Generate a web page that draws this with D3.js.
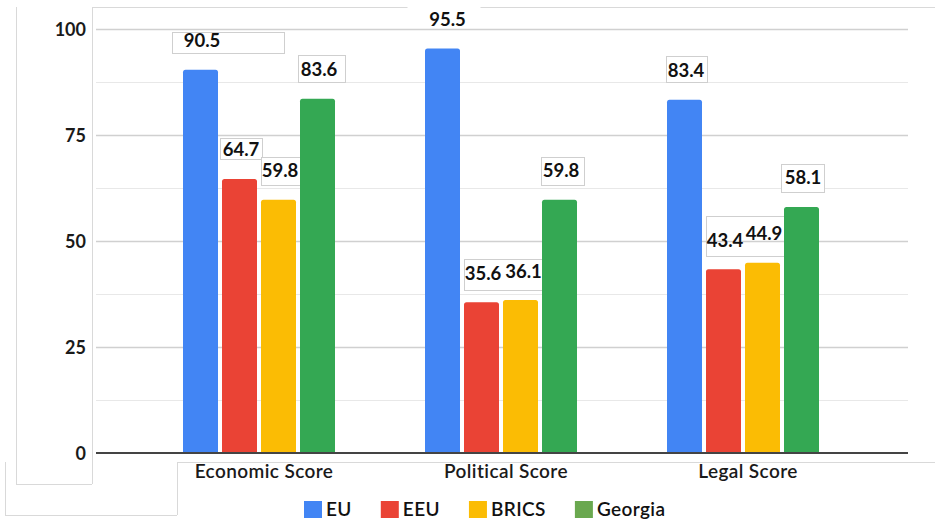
<!DOCTYPE html>
<html><head><meta charset="utf-8">
<script src="https://cdn.jsdelivr.net/npm/d3@7"></script>
<style>body{margin:0;background:#fff}svg{display:block;font-family:Lato,"Noto Sans",sans-serif}</style>
</head><body><svg width="935" height="520"></svg>
<script>
// ---- data ----
const categories = ["Economic Score", "Political Score", "Legal Score"];
const seriesNames = ["EU", "EEU", "BRICS", "Georgia"];
const EU = [90.5, 95.5, 83.4];
const EEU = [64.7, 35.6, 43.4];
const BRICS = [59.8, 36.1, 44.9];
const Georgia = [83.6, 59.8, 58.1];
const yTicks = [0, 25, 50, 75, 100];
const yMinorTicks = [12.5, 37.5, 62.5, 87.5];

// ---- styles / layout ----
const barColors = ["#4285f4", "#ea4335", "#fbbc04", "#34a853"];
const legendColors = ["#4285f4", "#ea4335", "#fbbc04", "#6aa84f"];
// label boxes: which labels share a box, padding [left, top, right, bottom], stroke
const labelBoxes = [
  {m: [[0,0]], pad: [12, 2, 63, 6], stroke: true},
  {m: [[0,1]], pad: [3, 5, 2, 3], stroke: true},
  {m: [[0,2]], pad: [1, 7, 1, 8], stroke: true},
  {m: [[0,3]], pad: [3, 8, 7, 6], stroke: true},
  {m: [[1,0]], pad: [22, 25, 14, 3], stroke: false},
  {m: [[1,1],[1,2]], pad: [1, 6, 1, 10], stroke: true},
  {m: [[1,3]], pad: [2, 7, 4, 8], stroke: true},
  {m: [[2,0]], pad: [2, 8, 2, 5], stroke: true},
  {m: [[2,1],[2,2]], pad: [1, 11, 1, 10], stroke: true},
  {m: [[2,3]], pad: [4, 7, 2, 8], stroke: true}
];
const labelShift = {"1,0": 3.5, "1,2": 1.5};

const seriesValues = [EU, EEU, BRICS, Georgia];
const svg = d3.select("svg");

const y = d3.scaleLinear().domain([0, 100]).range([453, 29.4]);
const x0 = d3.scaleBand().domain(categories).range([138, 864]);
const groupW = 152;
const x1 = d3.scaleBand().domain(seriesNames)
  .range([(x0.bandwidth() - groupW) / 2, (x0.bandwidth() + groupW) / 2])
  .paddingInner(4 / 39);

// decorative frame lines
const frame = svg.append("g").attr("stroke", "#d9d9d9").attr("stroke-width", 1).attr("fill", "none");
[[92, 7.5, 935, 7.5], [16.5, 7, 16.5, 484], [92.5, 7, 92.5, 484], [16, 484.5, 92, 484.5],
 [5.5, 462, 5.5, 515], [5, 515.5, 177, 515.5], [177.5, 462, 177.5, 515], [177, 462.5, 935, 462.5]]
  .forEach(l => frame.append("line").attr("x1", l[0]).attr("y1", l[1]).attr("x2", l[2]).attr("y2", l[3]));

// gridlines
const gx1 = 96, gx2 = 908;
svg.append("g").selectAll("line").data(yMinorTicks).join("line")
  .attr("x1", gx1).attr("x2", gx2).attr("y1", d => Math.round(y(d)) + 0.5).attr("y2", d => Math.round(y(d)) + 0.5)
  .attr("stroke", "#e8e8e8").attr("stroke-width", 1.2);

// bars
function topRounded(x, yTop, w, h, r) {
  r = Math.min(r, h);
  return `M${x},${yTop + h}V${yTop + r}Q${x},${yTop} ${x + r},${yTop}H${x + w - r}Q${x + w},${yTop} ${x + w},${yTop + r}V${yTop + h}Z`;
}
const barData = [];
categories.forEach((c, ci) => seriesNames.forEach((s, si) => barData.push({c, ci, s, si, v: seriesValues[si][ci]})));

const labelG = svg.append("g");
const boxG = labelG.append("g");
const textG = svg.append("g");
const majorG = svg.append("g");

svg.append("g").selectAll("path").data(barData).join("path")
  .attr("d", d => topRounded(x0(d.c) + x1(d.s), y(d.v), x1.bandwidth(), y(0) - y(d.v), 2.5))
  .attr("fill", d => barColors[d.si]);

const texts = {};
barData.forEach(d => {
  const cx = x0(d.c) + x1(d.s) + x1.bandwidth() / 2 + 1.5 + (labelShift[d.ci + "," + d.si] || 0);
  const t = textG.append("text").attr("x", cx).attr("y", y(d.v) - 22.5)
    .attr("text-anchor", "middle").attr("font-size", 18.5).attr("font-weight", 700).attr("fill", "#111")
    .text(d3.format(".1f")(d.v));
  const w = t.node().getComputedTextLength();
  texts[d.ci + "," + d.si] = {l: cx - w / 2, r: cx + w / 2, base: y(d.v) - 22.5};
});
labelBoxes.forEach(b => {
  const ms = b.m.map(k => texts[k[0] + "," + k[1]]);
  const l = d3.min(ms, m => m.l) - b.pad[0];
  const r = d3.max(ms, m => m.r) + b.pad[2];
  const t = d3.min(ms, m => m.base) - 13 - b.pad[1];
  const bt = d3.max(ms, m => m.base) + b.pad[3];
  boxG.append("rect").attr("x", Math.round(l) + 0.5).attr("y", Math.round(t) + 0.5)
    .attr("width", Math.round(r - l)).attr("height", Math.round(bt - t))
    .attr("fill", "#fff").attr("stroke", b.stroke ? "#cfcfcf" : "none").attr("stroke-width", 1);
});

majorG.selectAll("line").data(yTicks.filter(d => d > 0)).join("line")
  .attr("x1", gx1).attr("x2", gx2).attr("y1", d => Math.round(y(d)) + 0.5).attr("y2", d => Math.round(y(d)) + 0.5)
  .attr("stroke", "#d0d0d0").attr("stroke-width", 1.4);
textG.raise();

// baseline
svg.append("line").attr("x1", gx1).attr("x2", gx2).attr("y1", y(0)).attr("y2", y(0))
  .attr("stroke", "#444").attr("stroke-width", 2);

// y axis labels
const yAxis = svg.append("g").attr("transform", "translate(86,0)")
  .call(d3.axisLeft(y).tickValues(yTicks).tickSize(0).tickPadding(0));
yAxis.select(".domain").remove();
yAxis.selectAll("text").attr("font-size", 18).attr("font-weight", 700).attr("fill", "#1a1a1a")
  .attr("font-family", "Lato, sans-serif").attr("dy", "0.34em");

// category labels
svg.append("g").selectAll("text").data(categories).join("text")
  .attr("x", d => x0(d) + x0.bandwidth() / 2 + 5).attr("y", 478)
  .attr("text-anchor", "middle").attr("font-size", 19).attr("font-weight", 600)
  .attr("letter-spacing", 0.4).attr("fill", "#1a1a1a").text(d => d);

// legend
const legend = svg.append("g");
let lx = 304;
seriesNames.forEach((s, i) => {
  legend.append("rect").attr("x", lx).attr("y", 501).attr("width", 18).attr("height", 17).attr("fill", legendColors[i]);
  const t = legend.append("text").attr("x", lx + 22).attr("y", 516).attr("font-size", 19).attr("font-weight", 600)
    .attr("letter-spacing", 0.4).attr("fill", "#111").text(s);
  lx += 22 + t.node().getComputedTextLength() + 29;
});
</script>
</body></html>
